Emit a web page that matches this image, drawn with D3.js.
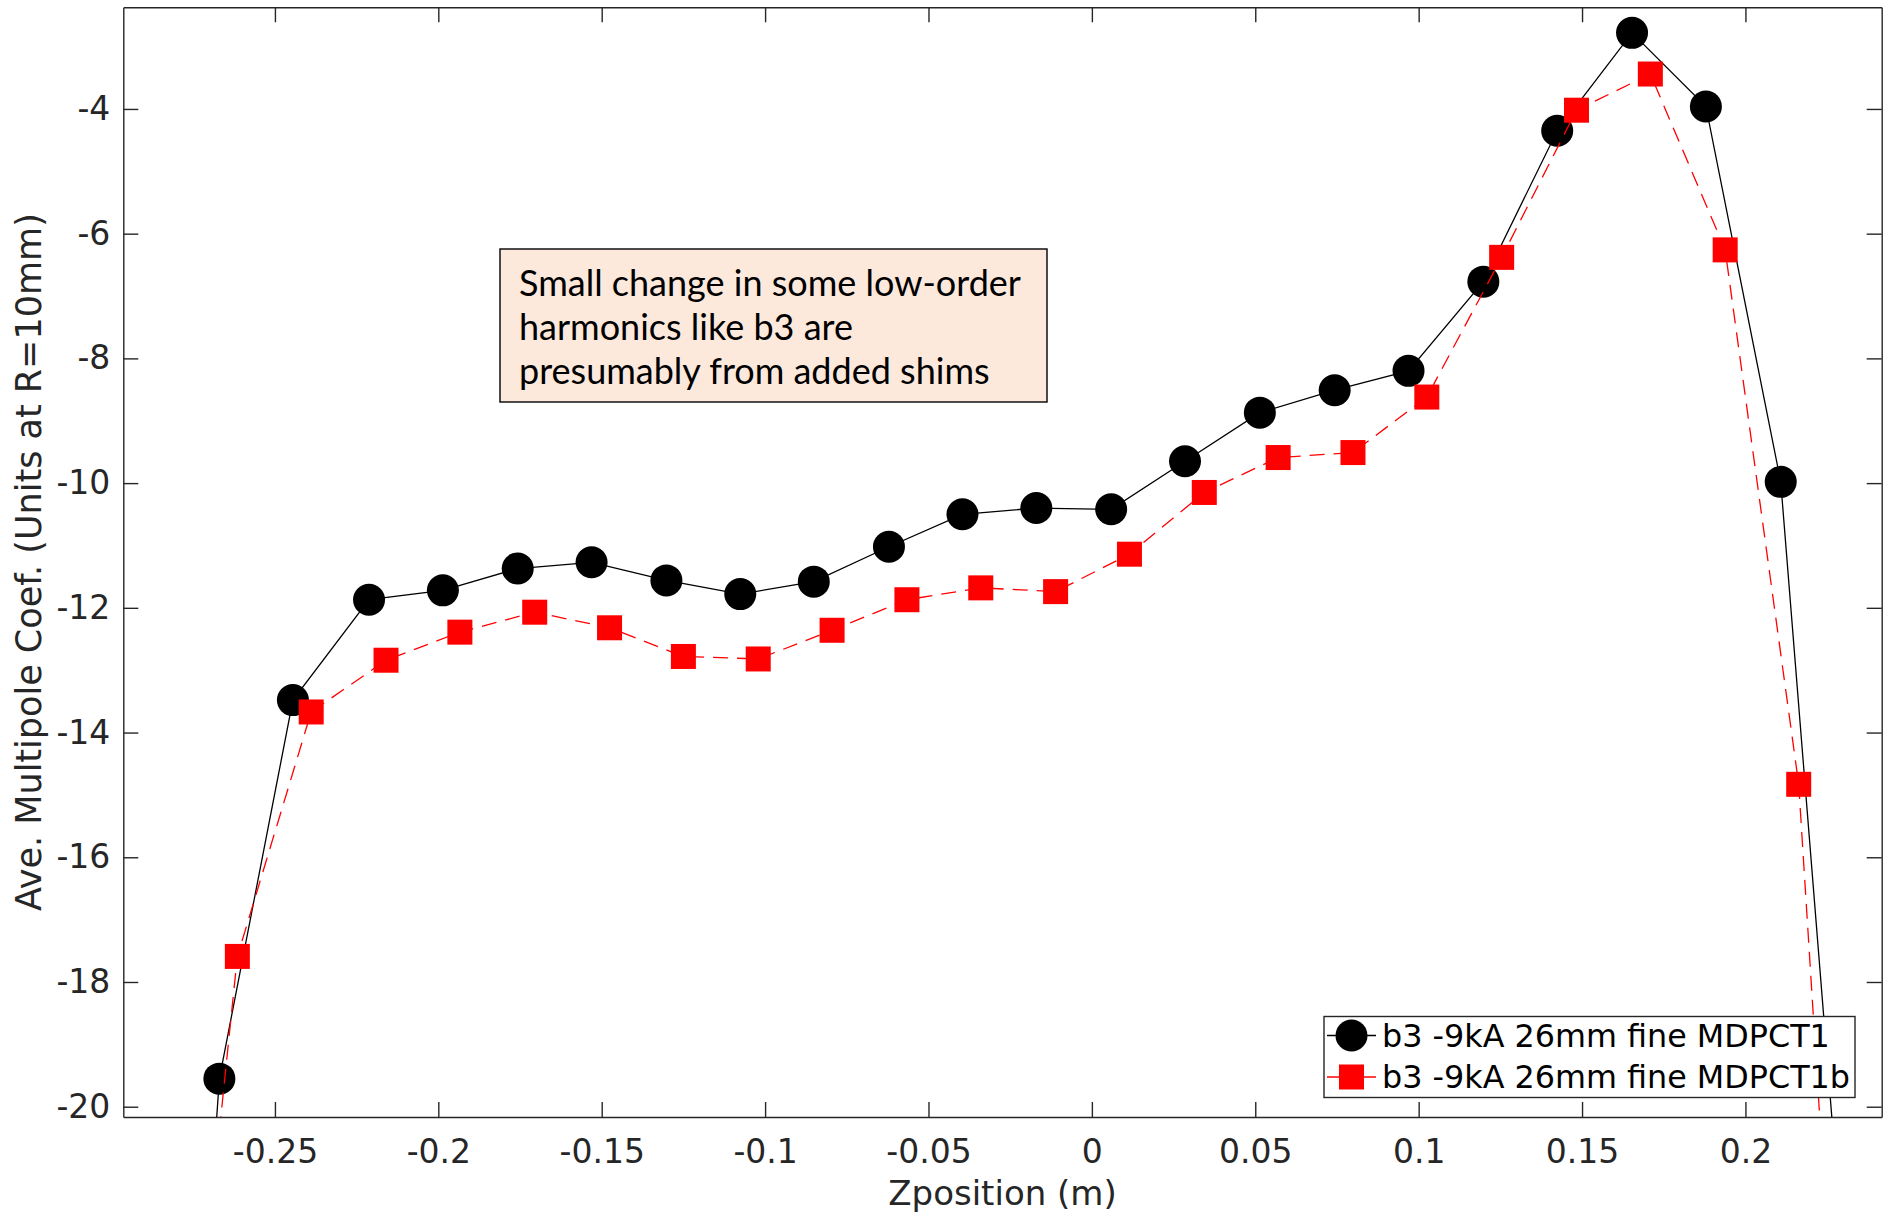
<!DOCTYPE html>
<html>
<head>
<meta charset="utf-8">
<script src="https://cdn.jsdelivr.net/npm/d3@7"></script>
<style>
  html, body { margin: 0; padding: 0; background: #fff; }
  svg { display: block; }
</style>
</head>
<body>
<svg id="chart"></svg>
<script>
// b3 multipole coefficient vs. z position, two measurements
const zMDPCT1 = [-0.2899, -0.2670, -0.2445, -0.2212, -0.1986, -0.1757, -0.1531, -0.1302, -0.1076,
  -0.0851, -0.0621, -0.0396, -0.0170, 0.0059, 0.0285, 0.0514, 0.0743, 0.0969, 0.1198, 0.1424,
  0.1653, 0.1879, 0.2108, 0.2337];
const b3MDPCT1 = [-37.0, -19.55, -13.48, -11.87, -11.72, -11.37, -11.27, -11.56, -11.78,
  -11.58, -11.02, -10.50, -10.40, -10.42, -9.65, -8.87, -8.51, -8.20, -6.77, -4.35,
  -2.78, -3.96, -9.98, -24.9];

const zMDPCT1b = [-0.2843, -0.2615, -0.2389, -0.2160, -0.1934, -0.1705, -0.1476, -0.1250, -0.1021,
  -0.0795, -0.0566, -0.0340, -0.0111, 0.0115, 0.0344, 0.0570, 0.0799, 0.1025, 0.1254, 0.1483,
  0.1709, 0.1938, 0.2163, 0.2392];
const b3MDPCT1b = [-29.2, -17.59, -13.67, -12.84, -12.39, -12.07, -12.32, -12.78, -12.82,
  -12.36, -11.87, -11.68, -11.74, -11.14, -10.15, -9.59, -9.51, -8.62, -6.38, -4.02,
  -3.44, -6.26, -14.83, -33.8];

const seriesNames = ["b3 -9kA 26mm fine MDPCT1", "b3 -9kA 26mm fine MDPCT1b"];
const xTicks = [-0.25, -0.2, -0.15, -0.1, -0.05, 0, 0.05, 0.1, 0.15, 0.2];
const yTicks = [-20, -18, -16, -14, -12, -10, -8, -6, -4];
const xDomain = [-0.2964, 0.2417];
const yDomain = [-20.165, -2.37];
const xLabel = "Zposition (m)";
const yLabel = "Ave. Multipole Coef. (Units at R=10mm)";
const noteLines = [
  "Small change in some low-order",
  "harmonics like b3 are",
  "presumably from added shims"
];

const width = 1889, height = 1216;
const margin = { top: 7.3, right: 7.3, bottom: 99, left: 123.3 };
const innerW = width - margin.left - margin.right;
const innerH = height - margin.top - margin.bottom;
const axisColor = "#262626";
const tickFont = "DejaVu Sans, sans-serif";

const svgRoot = d3.select("#chart")
  .attr("width", width)
  .attr("height", height)
  .attr("viewBox", [0, 0, width, height]);

svgRoot.append("rect").attr("width", width).attr("height", height).attr("fill", "#fff");

const svg = svgRoot.append("g")
  .attr("transform", `translate(${margin.left},${margin.top})`);

const x = d3.scaleLinear().domain(xDomain).range([0, innerW]);
const y = d3.scaleLinear().domain(yDomain).range([innerH, 0]);

// plain hyphen minus like the original, trailing zeros dropped
const fmt = d => String(+d.toFixed(2));

function styleAxis(g) {
  g.selectAll("path.domain").attr("stroke", axisColor).attr("stroke-width", 1.4);
  g.selectAll(".tick line").attr("stroke", axisColor).attr("stroke-width", 1.4);
  g.selectAll(".tick text")
    .attr("fill", axisColor)
    .style("font-family", tickFont)
    .style("font-size", "33px");
}

svg.append("g")
  .attr("transform", `translate(0,${innerH})`)
  .call(d3.axisBottom(x).tickValues(xTicks).tickFormat(fmt)
    .tickSizeInner(-15).tickSizeOuter(0).tickPadding(22.5))
  .call(styleAxis);

svg.append("g")
  .call(d3.axisTop(x).tickValues(xTicks).tickFormat("")
    .tickSizeInner(-15).tickSizeOuter(0))
  .call(styleAxis);

svg.append("g")
  .call(d3.axisLeft(y).tickValues(yTicks).tickFormat(fmt)
    .tickSizeInner(-15).tickSizeOuter(0).tickPadding(13))
  .call(styleAxis);

svg.append("g")
  .attr("transform", `translate(${innerW},0)`)
  .call(d3.axisRight(y).tickValues(yTicks).tickFormat("")
    .tickSizeInner(-15).tickSizeOuter(0))
  .call(styleAxis);

// axis labels
svgRoot.append("text")
  .attr("x", margin.left + innerW / 2)
  .attr("y", 1205)
  .attr("text-anchor", "middle")
  .attr("fill", axisColor)
  .style("font-family", tickFont)
  .style("font-size", "34px")
  .text(xLabel);

svgRoot.append("text")
  .attr("transform", `translate(41,${margin.top + innerH / 2}) rotate(-90)`)
  .attr("text-anchor", "middle")
  .attr("fill", axisColor)
  .style("font-family", tickFont)
  .style("font-size", "35px")
  .text(yLabel);

// plot area clip
svgRoot.append("defs").append("clipPath").attr("id", "plot-clip")
  .append("rect").attr("width", innerW).attr("height", innerH);

const plot = svg.append("g").attr("clip-path", "url(#plot-clip)");

const line = d3.line().x(d => x(d.z)).y(d => y(d.v));

const dataA = zMDPCT1.map((z, i) => ({ z, v: b3MDPCT1[i] }));
const dataB = zMDPCT1b.map((z, i) => ({ z, v: b3MDPCT1b[i] }));

plot.append("path")
  .attr("fill", "none")
  .attr("stroke", "#000")
  .attr("stroke-width", 1.3)
  .attr("d", line(dataA));

plot.append("g")
  .selectAll("circle")
  .data(dataA)
  .join("circle")
  .attr("cx", d => x(d.z))
  .attr("cy", d => y(d.v))
  .attr("r", 16)
  .attr("fill", "#000");

plot.append("path")
  .attr("fill", "none")
  .attr("stroke", "#ff0000")
  .attr("stroke-width", 1.3)
  .attr("stroke-dasharray", "15,9")
  .attr("d", line(dataB));

const sq = 25;
plot.append("g")
  .selectAll("rect")
  .data(dataB)
  .join("rect")
  .attr("x", d => x(d.z) - sq / 2)
  .attr("y", d => y(d.v) - sq / 2)
  .attr("width", sq)
  .attr("height", sq)
  .attr("fill", "#ff0000");

// annotation box
const note = svgRoot.append("g");
note.append("rect")
  .attr("x", 500).attr("y", 249)
  .attr("width", 547).attr("height", 153)
  .attr("fill", "#fde9dc")
  .attr("stroke", "#000")
  .attr("stroke-width", 1.4);
note.selectAll("text")
  .data(noteLines)
  .join("text")
  .attr("x", 519)
  .attr("y", (d, i) => 296 + i * 44)
  .attr("fill", "#000")
  .style("font-family", "Lato, sans-serif")
  .style("font-size", "36px")
  .text(d => d);

// legend
const legend = svgRoot.append("g");
legend.append("rect")
  .attr("x", 1324).attr("y", 1016.5)
  .attr("width", 531).attr("height", 81)
  .attr("fill", "#fff")
  .attr("stroke", axisColor)
  .attr("stroke-width", 1.4);

const rows = [
  { name: seriesNames[0], color: "#000", shape: "circle" },
  { name: seriesNames[1], color: "#ff0000", shape: "square" }
];
rows.forEach((r, i) => {
  const cy = 1035.5 + i * 41.5;
  legend.append("line")
    .attr("x1", 1327).attr("x2", 1376)
    .attr("y1", cy).attr("y2", cy)
    .attr("stroke", r.color)
    .attr("stroke-width", 1.3);
  if (r.shape === "circle") {
    legend.append("circle").attr("cx", 1351.5).attr("cy", cy).attr("r", 16).attr("fill", r.color);
  } else {
    legend.append("rect").attr("x", 1351.5 - sq / 2).attr("y", cy - sq / 2)
      .attr("width", sq).attr("height", sq).attr("fill", r.color);
  }
  legend.append("text")
    .attr("x", 1382)
    .attr("y", cy)
    .attr("dy", "0.36em")
    .attr("fill", "#000")
    .style("font-family", tickFont)
    .style("font-size", "31.8px")
    .text(r.name);
});
</script>
</body>
</html>
